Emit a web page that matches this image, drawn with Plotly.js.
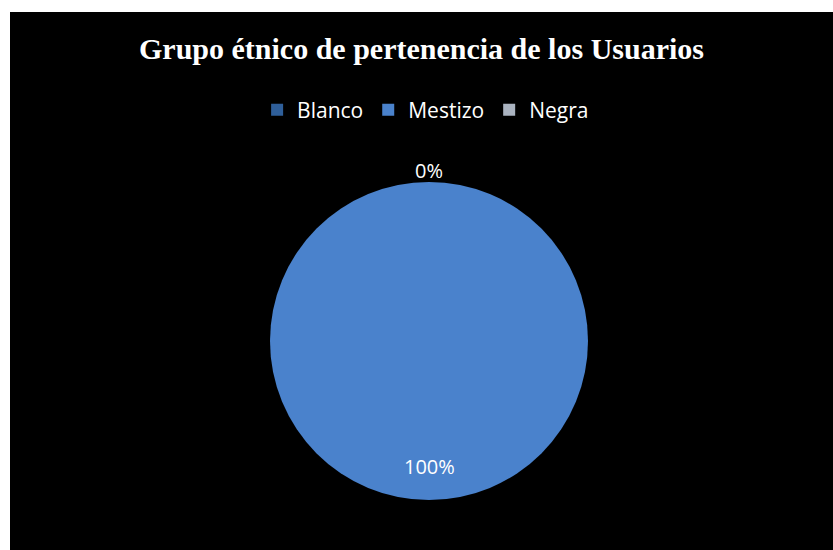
<!DOCTYPE html>
<html>
<head>
<meta charset="utf-8">
<script src="https://cdn.plot.ly/plotly-3.0.1.min.js"></script>
<style>
  html, body { margin: 0; padding: 0; background: #ffffff; width: 833px; height: 550px; overflow: hidden; }
  #chart { position: absolute; left: 10px; top: 12px; width: 823px; height: 538px; background: #000000; }
</style>
</head>
<body>
<div id="chart"></div>
<script>
// Data
const categories = ["Blanco", "Mestizo", "Negra"];
const values = [0, 100, 0];
const sliceColors = ["#2f5f9a", "#4a82cc", "#aab3c0"];
const chartTitle = "Grupo étnico de pertenencia de los Usuarios";

// Layout constants
const W = 823, H = 538;
const pieCx = 419, pieCy = 329, pieR = 159;
const domX = [(pieCx - pieR) / W, (pieCx + pieR) / W];
const domY = [(H - pieCy - pieR) / H, (H - pieCy + pieR) / H];

// Percentage labels positioned from the data (Excel style: clockwise from 12 o'clock)
const total = values.reduce((a, b) => a + b, 0);
const annotations = [];
let cum = 0;
values.forEach((v, i) => {
  const frac = v / total;
  const mid = 2 * Math.PI * (cum + frac / 2);
  cum += frac;
  const dist = frac > 0.05 ? 0.79 : 1.075;
  const cx = (domX[0] + domX[1]) / 2, cy = (domY[0] + domY[1]) / 2;
  const ax = cx + Math.sin(mid) * dist * pieR / W;
  const ay = cy + Math.cos(mid) * dist * pieR / H;
  const txt = Math.round(frac * 100) + "%";
  // overlapping identical labels (e.g. two 0% slices at 12 o'clock) are drawn once
  const dup = annotations.some(a => a.text === txt && Math.abs(a.x - ax) < 0.005 && Math.abs(a.y - ay) < 0.005);
  if (dup) return;
  annotations.push({
    xref: "paper", yref: "paper",
    x: ax, y: ay,
    text: txt,
    showarrow: false,
    xanchor: "center", yanchor: "middle",
    font: { family: "Open Sans", size: 20, color: "#ffffff" }
  });
});

const trace = {
  type: "pie",
  labels: categories,
  values: values,
  sort: false,
  direction: "clockwise",
  rotation: 0,
  textinfo: "none",
  hoverinfo: "skip",
  marker: { colors: sliceColors, line: { width: 0 } },
  domain: { x: domX, y: domY },
  showlegend: true
};

const layout = {
  width: W, height: H,
  paper_bgcolor: "#000000",
  plot_bgcolor: "#000000",
  margin: { l: 0, r: 0, t: 0, b: 0 },
  title: {
    text: "<b>" + chartTitle + "</b>",
    font: { family: "Liberation Serif", size: 30, color: "#ffffff" },
    x: 0.5, xanchor: "center",
    y: 1 - 36 / H, yanchor: "middle",
    xref: "paper", yref: "paper"
  },
  legend: {
    orientation: "h",
    x: 0.505, xanchor: "center",
    y: 1 - 98 / H, yanchor: "middle",
    font: { family: "Open Sans", size: 21, color: "#ffffff" },
    bgcolor: "rgba(0,0,0,0)",
    traceorder: "normal"
  },
  annotations: annotations
};

Plotly.newPlot("chart", [trace], layout, { displayModeBar: false, staticPlot: true });
</script>
</body>
</html>
